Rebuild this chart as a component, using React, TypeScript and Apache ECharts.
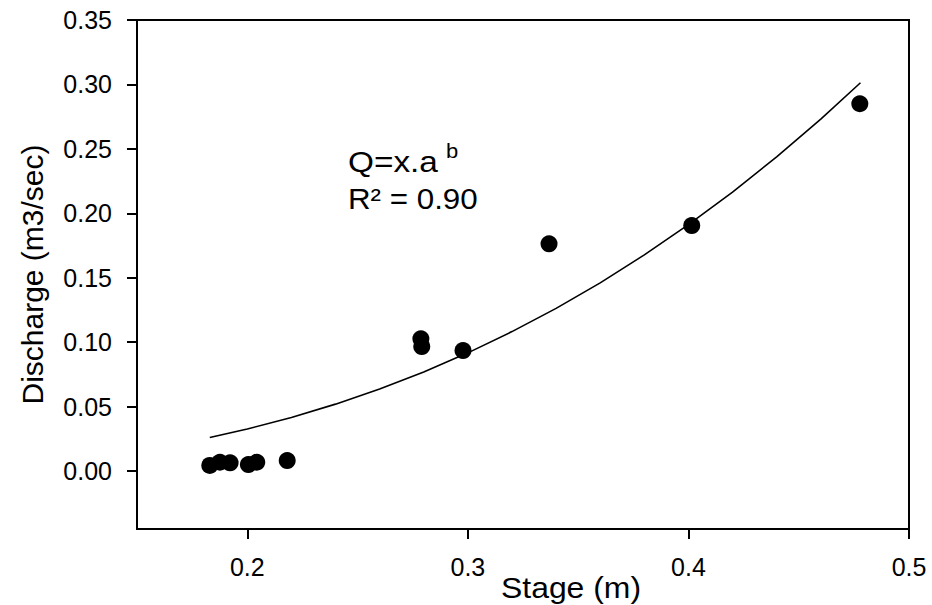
import React, { useEffect, useRef } from "react";
import * as echarts from "echarts";

// Observed data (Stage in m, Discharge in m3/sec)
const stage = [0.183, 0.1876, 0.1922, 0.2005, 0.2043, 0.2181, 0.2787, 0.2791, 0.2978, 0.3368, 0.4015, 0.4777];
const discharge = [0.0043, 0.0068, 0.0064, 0.005, 0.0068, 0.0081, 0.1026, 0.0966, 0.0935, 0.1763, 0.1905, 0.285];

// Fitted curve
const fitStage = [0.183, 0.2, 0.22, 0.24, 0.26, 0.28, 0.3, 0.32, 0.34, 0.36, 0.38, 0.4, 0.42, 0.44, 0.46, 0.478];
const fitDischarge = [0.026, 0.0326, 0.0416, 0.0519, 0.0637, 0.0769, 0.0917, 0.1082, 0.1262, 0.146, 0.1677, 0.1912, 0.2165, 0.2438, 0.2731, 0.3013];

// Axis ticks
const xTicks = [0.2, 0.3, 0.4, 0.5];
const yTicks = [0, 0.05, 0.1, 0.15, 0.2, 0.25, 0.3, 0.35];

const FONT = "'Liberation Sans', Arial, Helvetica, sans-serif";

export default function App() {
  const ref = useRef<HTMLDivElement>(null);
  useEffect(() => {
    if (!ref.current) return;
    const chart = echarts.init(ref.current, null, { renderer: "svg" });
    chart.setOption({
      animation: false,
      backgroundColor: "#ffffff",
      grid: {
        left: 137,
        top: 20,
        width: 772,
        height: 509,
        show: true,
        borderColor: "#000",
        borderWidth: 2,
        outerBoundsMode: "none",
      },
      xAxis: {
        type: "value",
        min: 0.15,
        max: 0.5,
        splitLine: { show: false },
        axisLine: { show: true, onZero: false, lineStyle: { color: "#000", width: 2 } },
        axisTick: { show: true, length: 10, lineStyle: { color: "#000", width: 2 }, customValues: xTicks },
        axisLabel: {
          customValues: xTicks,
          margin: 25,
          color: "#000",
          fontSize: 25,
          fontFamily: FONT,
          formatter: (v: number) => v.toFixed(1),
        },
      },
      yAxis: {
        type: "value",
        min: -0.045,
        max: 0.35,
        name: "Discharge (m3/sec)",
        nameLocation: "middle",
        nameGap: 90,
        nameTextStyle: { color: "#000", fontSize: 30, fontFamily: FONT },
        splitLine: { show: false },
        axisLine: { show: true, onZero: false, lineStyle: { color: "#000", width: 2 } },
        axisTick: { show: true, length: 10, lineStyle: { color: "#000", width: 2 }, customValues: yTicks },
        axisLabel: {
          customValues: yTicks,
          margin: 25,
          color: "#000",
          fontSize: 25,
          fontFamily: FONT,
          formatter: (v: number) => v.toFixed(2),
        },
      },
      graphic: [
        {
          type: "text",
          x: 571,
          y: 588,
          scaleX: 1.1,
          style: { text: "Stage (m)", fill: "#000", font: `29px ${FONT}`, textAlign: "center", textVerticalAlign: "middle" },
        },
        {
          type: "text",
          x: 348,
          y: 162,
          scaleX: 1.15,
          style: { text: "Q=x.a", fill: "#000", font: `29px ${FONT}`, textAlign: "left", textVerticalAlign: "middle" },
        },
        {
          type: "text",
          x: 446,
          y: 151,
          scaleX: 1.1,
          style: { text: "b", fill: "#000", font: `20px ${FONT}`, textAlign: "left", textVerticalAlign: "middle" },
        },
        {
          type: "text",
          x: 348,
          y: 199,
          scaleX: 1.08,
          style: { text: "R² = 0.90", fill: "#000", font: `29px ${FONT}`, textAlign: "left", textVerticalAlign: "middle" },
        },
      ],
      series: [
        {
          type: "line",
          data: fitStage.map((x, i) => [x, fitDischarge[i]]),
          showSymbol: false,
          symbol: "none",
          lineStyle: { color: "#000", width: 1.6 },
          z: 2,
        },
        {
          type: "scatter",
          data: stage.map((x, i) => [x, discharge[i]]),
          symbol: "circle",
          symbolSize: 17,
          itemStyle: { color: "#000", opacity: 1 },
          z: 3,
        },
      ],
    });
    return () => chart.dispose();
  }, []);
  return (
    <div
      ref={ref}
      style={{ position: "fixed", left: 0, top: 0, width: 932, height: 605, background: "#fff" }}
    />
  );
}
